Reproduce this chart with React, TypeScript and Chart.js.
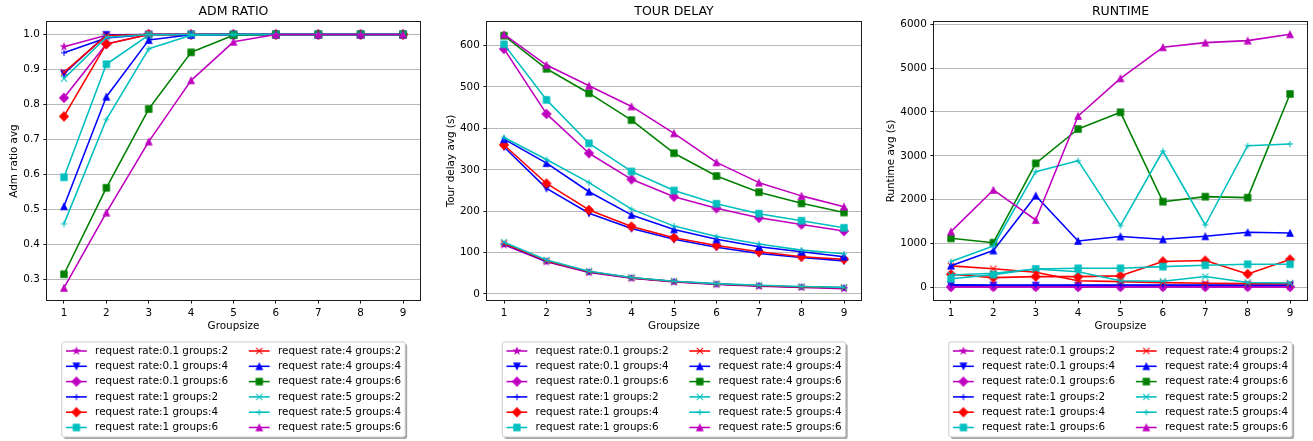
import React, { useEffect, useRef } from 'react';
import { Chart, registerables } from 'chart.js';

Chart.register(...registerables);

// ---------------- DATA ----------------
const groupsizes = [1, 2, 3, 4, 5, 6, 7, 8, 9];

const seriesLabels = [
  'request rate:0.1 groups:2',
  'request rate:0.1 groups:4',
  'request rate:0.1 groups:6',
  'request rate:1 groups:2',
  'request rate:1 groups:4',
  'request rate:1 groups:6',
  'request rate:4 groups:2',
  'request rate:4 groups:4',
  'request rate:4 groups:6',
  'request rate:5 groups:2',
  'request rate:5 groups:4',
  'request rate:5 groups:6',
];

// ADM RATIO (one row per series, in legend order)
const admRatioAvg: number[][] = [
  [0.965, 0.998, 1.0, 1.0, 1.0, 1.0, 1.0, 1.0, 1.0],
  [0.888, 0.999, 1.0, 1.0, 1.0, 1.0, 1.0, 1.0, 1.0],
  [0.819, 0.973, 1.0, 1.0, 1.0, 1.0, 1.0, 1.0, 1.0],
  [0.948, 0.99, 1.0, 1.0, 1.0, 1.0, 1.0, 1.0, 1.0],
  [0.766, 0.973, 1.0, 1.0, 1.0, 1.0, 1.0, 1.0, 1.0],
  [0.592, 0.915, 0.998, 1.0, 1.0, 1.0, 1.0, 1.0, 1.0],
  [0.892, 0.997, 1.0, 1.0, 1.0, 1.0, 1.0, 1.0, 1.0],
  [0.509, 0.822, 0.984, 0.999, 1.0, 1.0, 1.0, 1.0, 1.0],
  [0.315, 0.562, 0.787, 0.949, 0.998, 1.0, 1.0, 1.0, 1.0],
  [0.874, 0.992, 1.0, 1.0, 1.0, 1.0, 1.0, 1.0, 1.0],
  [0.459, 0.757, 0.959, 0.998, 1.0, 1.0, 1.0, 1.0, 1.0],
  [0.276, 0.491, 0.694, 0.869, 0.979, 1.0, 1.0, 1.0, 1.0],
];

// TOUR DELAY (s)
const tourDelayAvg: number[][] = [
  [119, 78, 52, 38, 29, 23, 19, 16, 13],
  [355, 255, 195, 158, 132, 113, 98, 88, 80],
  [592, 435, 340, 277, 235, 207, 184, 168, 152],
  [121, 79, 53, 39, 30, 24, 20, 17, 15],
  [360, 267, 203, 163, 136, 117, 102, 90, 84],
  [603, 469, 364, 296, 250, 218, 194, 177, 160],
  [122, 80, 54, 39, 30, 24, 20, 17, 15],
  [374, 316, 247, 191, 156, 132, 114, 102, 90],
  [624, 544, 485, 420, 340, 285, 246, 219, 197],
  [125, 82, 55, 40, 31, 25, 21, 18, 16],
  [378, 325, 269, 205, 164, 139, 121, 106, 97],
  [627, 553, 503, 453, 388, 318, 269, 237, 211],
];

// RUNTIME (s)
const runtimeAvg: number[][] = [
  [12, 11, 12, 10, 11, 12, 11, 10, 12],
  [45, 42, 40, 40, 40, 42, 40, 41, 42],
  [8, 9, 9, 8, 9, 9, 8, 9, 9],
  [60, 55, 50, 50, 50, 52, 50, 52, 52],
  [298, 221, 244, 244, 262, 590, 610, 305, 635],
  [195, 290, 420, 435, 435, 473, 504, 527, 527],
  [489, 425, 345, 150, 130, 107, 92, 84, 84],
  [494, 840, 2091, 1057, 1160, 1095, 1164, 1255, 1240],
  [1118, 1019, 2829, 3612, 3993, 1954, 2069, 2046, 4411],
  [280, 320, 420, 355, 150, 140, 245, 110, 100],
  [590, 943, 2639, 2890, 1407, 3110, 1422, 3232, 3270],
  [1270, 2221, 1536, 3909, 4768, 5476, 5582, 5628, 5772],
];

const admTicks = [0.3, 0.4, 0.5, 0.6, 0.7, 0.8, 0.9, 1.0];
const delayTicks = [0, 100, 200, 300, 400, 500, 600];
const runtimeTicks = [0, 1000, 2000, 3000, 4000, 5000, 6000];

// ---------------- STYLE ----------------
const MAG = '#bf00bf';
const BLU = '#0000ff';
const RED = '#ff0000';
const CYA = '#00bfbf';
const GRN = '#008000';
const seriesColors = [MAG, BLU, MAG, BLU, RED, CYA, RED, BLU, GRN, CYA, CYA, MAG];
const seriesMarkers = ['star', 'vdown', 'diamond', 'plus', 'diamond', 'square', 'x', 'vup', 'square', 'x', 'plus', 'vup'];

const FONT = '"DejaVu Sans", "Liberation Sans", sans-serif';
const TICK_FS = 10.4;
const TITLE_FS = 12.5;
const H = 441;
const AREA_TOP = 22;
const AREA_BOTTOM = 300;

type Panel = {
  title: string;
  yLabel: string;
  values: number[][];
  ticks: number[];
  decimals: number;
  yMin: number;
  yMax: number;
  canvasLeft: number;
  canvasWidth: number;
  areaLeft: number;
  areaRight: number;
  yLabelX: number;
};

const panels: Panel[] = [
  {
    title: 'ADM RATIO', yLabel: 'Adm ratio avg', values: admRatioAvg, ticks: admTicks, decimals: 1,
    yMin: 0.2414, yMax: 1.0357, canvasLeft: 0, canvasWidth: 437, areaLeft: 47, areaRight: 420, yLabelX: 16.5,
  },
  {
    title: 'TOUR DELAY', yLabel: 'Tour delay avg (s)', values: tourDelayAvg, ticks: delayTicks, decimals: 0,
    yMin: -14.5, yMax: 657, canvasLeft: 437, canvasWidth: 437, areaLeft: 487, areaRight: 861, yLabelX: 453.5,
  },
  {
    title: 'RUNTIME', yLabel: 'Runtime avg (s)', values: runtimeAvg, ticks: runtimeTicks, decimals: 0,
    yMin: -289, yMax: 6053, canvasLeft: 874, canvasWidth: 439, areaLeft: 934, areaRight: 1307, yLabelX: 893.5,
  },
];

function makeMarker(kind: string, color: string): HTMLCanvasElement {
  const S = 14;
  const c = document.createElement('canvas');
  c.width = S;
  c.height = S;
  const g = c.getContext('2d') as CanvasRenderingContext2D;
  const r = 3.125;
  g.translate(S / 2, S / 2);
  g.strokeStyle = color;
  g.fillStyle = color;
  g.lineWidth = 1.04;
  g.lineJoin = 'miter';
  g.lineCap = 'butt';
  g.beginPath();
  if (kind === 'star') {
    for (let k = 0; k < 10; k++) {
      const rad = k % 2 === 0 ? r : r * 0.381966;
      const ang = -Math.PI / 2 + (k * Math.PI) / 5;
      const px = rad * Math.cos(ang);
      const py = rad * Math.sin(ang);
      if (k === 0) g.moveTo(px, py); else g.lineTo(px, py);
    }
    g.closePath();
    g.fill();
    g.stroke();
  } else if (kind === 'vdown') {
    g.moveTo(0, r); g.lineTo(-r, -r); g.lineTo(r, -r); g.closePath();
    g.fill(); g.stroke();
  } else if (kind === 'vup') {
    g.moveTo(0, -r); g.lineTo(-r, r); g.lineTo(r, r); g.closePath();
    g.fill(); g.stroke();
  } else if (kind === 'diamond') {
    const d = r * Math.SQRT2;
    g.moveTo(0, -d); g.lineTo(d, 0); g.lineTo(0, d); g.lineTo(-d, 0); g.closePath();
    g.fill(); g.stroke();
  } else if (kind === 'square') {
    g.rect(-r, -r, 2 * r, 2 * r);
    g.fill(); g.stroke();
  } else if (kind === 'plus') {
    g.moveTo(-r, 0); g.lineTo(r, 0); g.moveTo(0, -r); g.lineTo(0, r);
    g.stroke();
  } else if (kind === 'x') {
    g.moveTo(-r, -r); g.lineTo(r, r); g.moveTo(-r, r); g.lineTo(r, -r);
    g.stroke();
  }
  return c;
}

function roundRectPath(ctx: CanvasRenderingContext2D, x: number, y: number, w: number, h: number, r: number) {
  ctx.beginPath();
  ctx.moveTo(x + r, y);
  ctx.lineTo(x + w - r, y);
  ctx.arcTo(x + w, y, x + w, y + r, r);
  ctx.lineTo(x + w, y + h - r);
  ctx.arcTo(x + w, y + h, x + w - r, y + h, r);
  ctx.lineTo(x + r, y + h);
  ctx.arcTo(x, y + h, x, y + h - r, r);
  ctx.lineTo(x, y + r);
  ctx.arcTo(x, y, x + r, y, r);
  ctx.closePath();
}

function decorPlugin(p: Panel, markers: HTMLCanvasElement[]) {
  return {
    id: 'mplDecor',
    afterDraw(chart: any) {
      const ctx: CanvasRenderingContext2D = chart.ctx;
      const a = chart.chartArea;
      const cx = (a.left + a.right) / 2;
      ctx.save();
      // spines
      ctx.strokeStyle = '#1a1a1a';
      ctx.lineWidth = 1;
      const l = Math.round(a.left) - 0.5;
      const t = Math.round(a.top) - 0.5;
      const rr = Math.round(a.right) + 0.5;
      const b = Math.round(a.bottom) + 0.5;
      ctx.strokeRect(l, t, rr - l, b - t);
      // title
      ctx.fillStyle = '#000';
      ctx.textAlign = 'center';
      ctx.textBaseline = 'alphabetic';
      ctx.font = `${TITLE_FS}px ${FONT}`;
      ctx.fillText(p.title, cx, 15);
      // x label
      ctx.font = `${TICK_FS}px ${FONT}`;
      ctx.fillText('Groupsize', cx, 329.3);
      // y label
      ctx.save();
      ctx.translate(p.yLabelX - p.canvasLeft, (a.top + a.bottom) / 2);
      ctx.rotate(-Math.PI / 2);
      ctx.fillText(p.yLabel, 0, 0);
      ctx.restore();

      // legend
      const fs = TICK_FS;
      ctx.font = `${fs}px ${FONT}`;
      const pad = 0.4 * fs;
      const handle = 2 * fs;
      const htp = 0.8 * fs;
      const colsp = 2 * fs;
      let w1 = 0;
      let w2 = 0;
      seriesLabels.forEach((s, i) => {
        const w = ctx.measureText(s).width;
        if (i < 6) w1 = Math.max(w1, w); else w2 = Math.max(w2, w);
      });
      const W = pad + handle + htp + w1 + colsp + handle + htp + w2 + pad;
      const LH = 95;
      const L = cx - W / 2;
      const T = 342;
      const rad = 0.2 * fs;
      // shadow
      ctx.fillStyle = 'rgba(77,77,77,0.5)';
      roundRectPath(ctx, L + 2, T + 2, W, LH, rad);
      ctx.fill();
      // frame
      ctx.fillStyle = '#ffffff';
      roundRectPath(ctx, L, T, W, LH, rad);
      ctx.fill();
      ctx.strokeStyle = '#cccccc';
      ctx.lineWidth = 1;
      ctx.stroke();
      ctx.textAlign = 'left';
      ctx.textBaseline = 'middle';
      seriesLabels.forEach((s, i) => {
        const col = i < 6 ? 0 : 1;
        const row = i % 6;
        const x0 = L + pad + col * (handle + htp + w1 + colsp);
        const y = T + 9 + row * 15.3;
        ctx.strokeStyle = seriesColors[i];
        ctx.lineWidth = 1.56;
        ctx.lineCap = 'butt';
        ctx.beginPath();
        ctx.moveTo(x0, y);
        ctx.lineTo(x0 + handle, y);
        ctx.stroke();
        const m = markers[i];
        ctx.drawImage(m, x0 + handle / 2 - m.width / 2, y - m.height / 2);
        ctx.fillStyle = '#000';
        ctx.fillText(s, x0 + handle + htp, y);
      });
      ctx.restore();
    },
  };
}

function buildChart(canvas: HTMLCanvasElement, p: Panel) {
  const markers = seriesMarkers.map((k, i) => makeMarker(k, seriesColors[i]));
  const localRight = p.areaRight - p.canvasLeft;
  const xAxisHeight = 20;
  return new Chart(canvas, {
    type: 'line',
    data: {
      datasets: p.values.map((vals, i) => ({
        label: seriesLabels[i],
        data: groupsizes.map((g, j) => ({ x: g, y: vals[j] })),
        borderColor: seriesColors[i],
        backgroundColor: seriesColors[i],
        borderWidth: 1.56,
        borderJoinStyle: 'round',
        pointStyle: markers[i],
        pointRadius: 3,
        pointHoverRadius: 3,
        pointBorderWidth: 0,
        tension: 0,
        fill: false,
        order: seriesLabels.length - i,
      })),
    } as any,
    options: {
      responsive: false,
      animation: false,
      devicePixelRatio: 1,
      events: [],
      layout: {
        padding: {
          left: 0,
          right: p.canvasWidth - localRight,
          top: AREA_TOP,
          bottom: H - AREA_BOTTOM - xAxisHeight,
        },
      },
      plugins: {
        legend: { display: false },
        title: { display: false },
        tooltip: { enabled: false },
      },
      scales: {
        x: {
          type: 'linear',
          min: 0.6,
          max: 9.4,
          afterBuildTicks: (s: any) => {
            s.ticks = groupsizes.map((v) => ({ value: v }));
          },
          afterFit: (s: any) => {
            s.height = xAxisHeight;
          },
          border: { display: false },
          grid: {
            drawOnChartArea: false,
            drawTicks: true,
            tickLength: 3.6,
            tickColor: '#000',
            tickWidth: 0.9,
          },
          ticks: {
            autoSkip: false,
            maxRotation: 0,
            padding: 3.2,
            color: '#000',
            font: { family: FONT, size: TICK_FS },
            callback: (v: any) => String(v),
          },
        },
        y: {
          type: 'linear',
          min: p.yMin,
          max: p.yMax,
          afterBuildTicks: (s: any) => {
            s.ticks = p.ticks.map((v) => ({ value: v }));
          },
          afterFit: (s: any) => {
            s.width = p.areaLeft - p.canvasLeft;
          },
          border: { display: false },
          grid: {
            color: '#b0b0b0',
            lineWidth: 0.9,
            drawTicks: true,
            tickLength: 3.6,
            tickColor: '#000',
            tickWidth: 0.9,
          },
          ticks: {
            padding: 3.6,
            color: '#000',
            font: { family: FONT, size: TICK_FS },
            callback: (v: any) => Number(v).toFixed(p.decimals),
          },
        },
      },
    } as any,
    plugins: [decorPlugin(p, markers)],
  });
}

export default function App() {
  const r0 = useRef<HTMLCanvasElement>(null);
  const r1 = useRef<HTMLCanvasElement>(null);
  const r2 = useRef<HTMLCanvasElement>(null);
  const refs = [r0, r1, r2];

  useEffect(() => {
    const charts = panels.map((p, i) => buildChart(refs[i].current as HTMLCanvasElement, p));
    return () => {
      charts.forEach((c) => c.destroy());
    };
  }, []);

  return (
    <div style={{ position: 'absolute', left: 0, top: 0, width: 1313, height: H, background: '#ffffff' }}>
      {panels.map((p, i) => (
        <canvas
          key={i}
          ref={refs[i]}
          width={p.canvasWidth}
          height={H}
          style={{ position: 'absolute', left: p.canvasLeft, top: 0, width: p.canvasWidth, height: H }}
        />
      ))}
    </div>
  );
}
